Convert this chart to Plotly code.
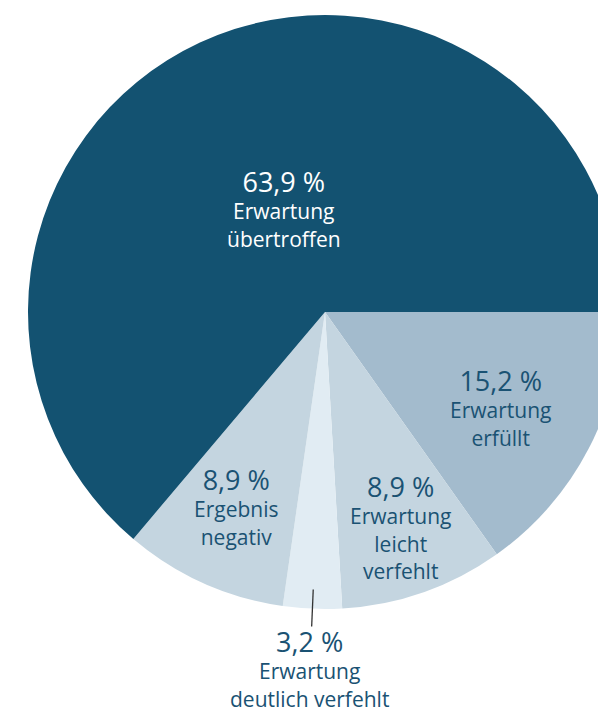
import math
import plotly.graph_objects as go

# ---- data ----
categories = ["Erwartung<br>erfüllt", "Erwartung<br>leicht<br>verfehlt",
              "Erwartung<br>deutlich verfehlt", "Ergebnis<br>negativ",
              "Erwartung<br>übertroffen"]
values = [15.2, 8.9, 3.2, 8.9, 63.9]

# ---- style ----
slice_colors = ["#a3bbcd", "#c4d5e0", "#e1ecf3", "#c4d5e0", "#135271"]
text_colors = ["#1a5273", "#1a5273", "#1a5273", "#1a5273", "#ffffff"]
label_radius = [0.675, 0.765, 1.20, 0.715, 0.385]   # fraction of pie radius
label_xshift = [-3, 0, 0, -2, 7]
label_yshift = [-3, 0, 0, 0, 0]
W, H = 650, 712
CX, CY, R = 325, 312, 297

fig = go.Figure(go.Pie(
    labels=categories, values=values, sort=False, direction="clockwise",
    rotation=90, marker=dict(colors=slice_colors, line=dict(width=0)),
    textinfo="none", hoverinfo="label+percent", showlegend=False,
    domain=dict(x=[0, 1], y=[1 - (CY + R) / H, 1 - (CY - R) / H]),
))

total = sum(values)
cum = 0.0
annotations = []
shapes = []
for cat, v, tc, rf, xs, ys in zip(categories, values, text_colors, label_radius,
                                  label_xshift, label_yshift):
    mid = (cum + v / 2) / total * 2 * math.pi
    cum += v
    px = CX + rf * R * math.cos(mid)
    py = CY + rf * R * math.sin(mid)
    num = f"{v:.1f}".replace(".", ",") + " %"
    if rf > 1:
        x0 = CX + 0.935 * R * math.cos(mid)
        y0 = CY + 0.935 * R * math.sin(mid)
        x1 = CX + 1.06 * R * math.cos(mid)
        y1 = CY + 1.06 * R * math.sin(mid)
        shapes.append(dict(type="line", xref="paper", yref="paper",
                           x0=x0 / W, y0=1 - y0 / H, x1=x1 / W, y1=1 - y1 / H,
                           line=dict(color="#333333", width=1.3)))
    annotations.append(dict(
        x=px / W, y=1 - py / H, xref="paper", yref="paper",
        xanchor="center", yanchor="middle", showarrow=False,
        xshift=xs, yshift=ys,
        text=f"<span style='font-size:27px'>{num}</span><br>{cat}",
        font=dict(family="Open Sans", size=21, color=tc), align="center"))

fig.update_layout(
    width=W, height=H, margin=dict(l=0, r=0, t=0, b=0),
    paper_bgcolor="white", plot_bgcolor="white",
    annotations=annotations, shapes=shapes,
)

fig.write_html(
    "out.html",
    config={"displayModeBar": False},
    post_script="document.body.style.margin='0';document.body.style.overflow='hidden';"
                "document.documentElement.style.overflow='hidden';",
)
